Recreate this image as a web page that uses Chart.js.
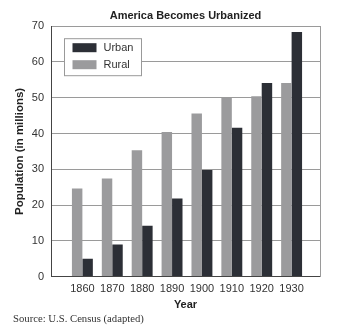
<!DOCTYPE html>
<html>
<head>
<meta charset="utf-8">
<script src="https://cdn.jsdelivr.net/npm/chart.js@4"></script>
<style>
  body { margin: 0; background: #fff; }
  #wrap { position: relative; width: 338px; height: 331px; }
  #source { position: absolute; left: 13px; top: 312px; font: 10.7px "Liberation Serif", serif; color: #333; }
</style>
</head>
<body>
<div id="wrap">
  <canvas id="chart" width="338" height="331"></canvas>
  <div id="source">Source: U.S. Census (adapted)</div>
</div>
<script>
var years = [1860, 1870, 1880, 1890, 1900, 1910, 1920, 1930];
var urban = [5.0, 9.0, 14.2, 21.8, 29.8, 41.6, 54.1, 68.4];
var rural = [24.6, 27.4, 35.3, 40.4, 45.6, 49.9, 50.4, 54.1];
var yTicks = [0, 10, 20, 30, 40, 50, 60, 70];

var urbanColor = '#2c2f36';
var ruralColor = '#9b9b9d';

// legend box drawn inside the plot, like the original
var boxLegend = {
    id: 'boxLegend',
    afterDatasetsDraw: function (chart) {
        var ctx = chart.ctx;
        var a = chart.chartArea;
        var x = a.left + 13.5, y = a.top + 12.5;
        ctx.save();
        ctx.fillStyle = '#fff';
        ctx.fillRect(x, y, 77, 37);
        ctx.strokeStyle = '#999';
        ctx.lineWidth = 1;
        ctx.strokeRect(x, y, 77, 37);
        var items = [
            { label: chart.data.datasets[1].label, color: urbanColor },
            { label: chart.data.datasets[0].label, color: ruralColor }
        ];
        ctx.font = '11px "Liberation Sans", Arial, sans-serif';
        ctx.textBaseline = 'middle';
        items.forEach(function (it, i) {
            var cy = y + 9 + i * 17;
            ctx.fillStyle = it.color;
            ctx.fillRect(x + 8, cy - 4.5, 24, 9);
            ctx.fillStyle = '#333';
            ctx.fillText(it.label, x + 39, cy);
        });
        ctx.restore();
    }
};

new Chart(document.getElementById('chart').getContext('2d'), {
    type: 'bar',
    data: {
        datasets: [{
            label: 'Rural',
            data: years.map((yr, i) => ({ x: yr, y: rural[i] })),
            backgroundColor: ruralColor
        }, {
            label: 'Urban',
            data: years.map((yr, i) => ({ x: yr, y: urban[i] })),
            backgroundColor: urbanColor
        }]
    },
    options: {
        responsive: false,
        animation: false,
        categoryPercentage: 0.7,
        barPercentage: 1,
        layout: { padding: { left: 13, right: 18, bottom: 19, top: 0 } },
        plugins: {
            legend: { display: false },
            tooltip: { enabled: false },
            title: {
                display: true,
                fullSize: false,
                text: 'America Becomes Urbanized',
                color: '#222',
                font: { family: '"Liberation Sans", Arial, sans-serif', size: 11, weight: 'bold' },
                padding: { top: 9, bottom: 4 }
            }
        },
        scales: {
            x: {
                type: 'linear',
                min: 1849.5,
                max: 1939.5,
                offset: false,
                afterBuildTicks: function (scale) {
                    scale.ticks = years.map(v => ({ value: v }));
                },
                grid: { display: false, offset: false, drawTicks: false },
                border: { color: '#444', width: 1 },
                ticks: {
                    color: '#333',
                    padding: 6,
                    font: { family: '"Liberation Sans", Arial, sans-serif', size: 11 },
                    callback: function (v) { return String(v); }
                },
                title: {
                    display: true,
                    text: 'Year',
                    color: '#222',
                    font: { family: '"Liberation Sans", Arial, sans-serif', size: 11, weight: 'bold' },
                    padding: { top: -3, bottom: 0 }
                }
            },
            y: {
                min: 0,
                max: 70,
                afterBuildTicks: function (scale) {
                    scale.ticks = yTicks.map(v => ({ value: v }));
                },
                afterFit: function (scale) { scale.width = 38; },
                grid: { color: '#9a9a9a', drawTicks: false },
                border: { color: '#444', width: 1 },
                ticks: {
                    color: '#333',
                    padding: 7,
                    font: { family: '"Liberation Sans", Arial, sans-serif', size: 11 }
                },
                title: {
                    display: true,
                    text: 'Population (in millions)',
                    color: '#222',
                    font: { family: '"Liberation Sans", Arial, sans-serif', size: 11.5, weight: 'bold' },
                    padding: { top: 0, bottom: 0 }
                }
            },
            y2: {
                position: 'right',
                grid: { display: false, drawTicks: false },
                border: { color: '#9a9a9a', width: 1 },
                ticks: { display: false }
            }
        }
    },
    plugins: [boxLegend]
});
</script>
</body>
</html>
